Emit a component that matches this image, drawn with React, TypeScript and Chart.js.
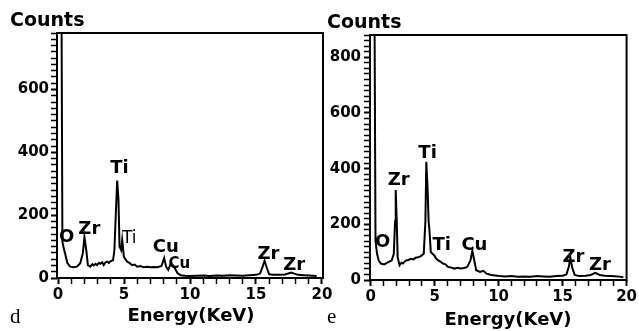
import { useEffect, useRef } from 'react';
import { Chart, registerables } from 'chart.js';

Chart.register(...registerables);

// ---------- data: panel d ----------
const energyD = [0.25, 0.33, 0.4, 0.53, 0.71, 0.92, 1.17, 1.43, 1.68, 1.88, 2.0, 2.14, 2.26, 2.44, 2.6, 2.7, 2.85, 2.95, 3.1, 3.2, 3.35, 3.46, 3.6, 3.72, 3.85, 3.97, 4.17, 4.27, 4.37, 4.48, 4.58, 4.66, 4.78, 4.86, 4.99, 5.1, 5.24, 5.4, 5.62, 5.8, 6.0, 6.25, 6.5, 6.75, 7.0, 7.25, 7.53, 7.84, 8.04, 8.19, 8.35, 8.55, 8.7, 8.85, 9.06, 9.3, 9.6, 10.0, 10.5, 11.0, 11.5, 12.0, 12.5, 13.0, 13.5, 14.0, 14.5, 15.0, 15.3, 15.5, 15.65, 15.8, 16.0, 16.3, 16.8, 17.2, 17.5, 17.7, 17.9, 18.2, 18.6, 19.0, 19.3, 19.6];
const countsD = [1000, 116, 100, 79, 47, 36, 34, 36, 47, 79, 130, 89, 41, 36, 44, 40, 45, 41, 48, 45, 50, 41, 50, 52, 48, 53, 57, 89, 196, 310, 249, 100, 89, 121, 68, 60, 52, 48, 41, 43, 36, 38, 34, 36, 34, 35, 34, 38, 63, 36, 26, 47, 41, 31, 15, 9, 7, 6, 7, 8, 6, 8, 7, 9, 8, 7, 9, 10, 14, 35, 55, 35, 12, 10, 10, 11, 15, 17, 14, 10, 9, 8, 7, 6];

// ---------- data: panel e ----------
const energyE = [0.3, 0.38, 0.5, 0.63, 0.8, 1.06, 1.38, 1.64, 1.81, 1.91, 1.96, 2.04, 2.11, 2.26, 2.4, 2.52, 2.65, 2.77, 2.95, 3.15, 3.35, 3.52, 3.7, 3.9, 4.15, 4.28, 4.35, 4.45, 4.53, 4.6, 4.7, 4.83, 4.98, 5.1, 5.28, 5.45, 5.66, 5.85, 6.04, 6.3, 6.54, 6.8, 7.04, 7.3, 7.55, 7.8, 7.95, 8.1, 8.25, 8.55, 8.8, 9.06, 9.43, 10.06, 10.5, 11.0, 11.5, 12.0, 12.5, 13.0, 13.5, 14.0, 14.5, 15.0, 15.3, 15.5, 15.6, 15.75, 15.95, 16.3, 16.8, 17.2, 17.56, 17.9, 18.3, 18.8, 19.3, 19.75];
const countsE = [1000, 140, 94, 70, 59, 56, 64, 70, 94, 211, 323, 211, 82, 53, 62, 59, 66, 70, 72, 76, 74, 80, 82, 85, 94, 211, 425, 329, 211, 176, 100, 94, 88, 78, 70, 66, 59, 56, 47, 45, 41, 44, 41, 43, 47, 70, 105, 70, 35, 29, 33, 23, 18, 14, 13, 14, 12, 13, 12, 14, 13, 12, 14, 15, 20, 50, 82, 45, 18, 14, 15, 18, 26, 18, 15, 14, 13, 10];

// ---------- axis ticks ----------
const xTickLabels = [0, 5, 10, 15, 20];
const yTickLabelsD = [0, 200, 400, 600];
const yTickLabelsE = [0, 200, 400, 600, 800];

// ---------- peak annotations ----------
const peakTextD = ['O', 'Zr', 'Ti', 'Ti', 'Cu', 'Cu', 'Zr', 'Zr'];
const peakEnergyD = [0.65, 2.37, 4.66, 5.4, 8.17, 9.2, 15.95, 17.9];
const peakCountD = [115, 140, 335, 110, 82, 32, 60, 26];

const peakTextE = ['O', 'Zr', 'Ti', 'Ti', 'Cu', 'Zr', 'Zr'];
const peakEnergyE = [0.94, 2.19, 4.45, 5.55, 8.11, 15.85, 17.92];
const peakCountE = [118, 340, 440, 108, 108, 66, 36];

// styles for annotation text (not data)
const B18 = 'bold 18px "DejaVu Sans"';
const peakFontD = [B18, B18, B18, '17px "DejaVu Sans"', B18, 'bold 15px "DejaVu Sans"', B18, B18];
const peakFontE = [B18, B18, B18, B18, B18, B18, B18];

type PanelSpec = {
  energy: number[];
  counts: number[];
  yMax: number;
  xMin: number;
  xMax: number;
  yLabels: number[];
  axisW: number;
  axisH: number;
  padTop: number;
  padRight: number;
  yLabelPad: number;
  peakText: string[];
  peakEnergy: number[];
  peakCount: number[];
  peakFont: string[];
  countsX: number;
  countsY: number;
  energyX: number;
  energyY: number;
  letter: string;
  letterX: number;
  letterY: number;
};

function makeChart(canvas: HTMLCanvasElement, p: PanelSpec) {
  const tickFont = { family: 'DejaVu Sans', weight: 'bold' as const, size: 15 };
  const textPlugin = {
    id: 'panelText',
    afterDatasetsDraw(chart: any) {
      const { ctx, chartArea: a, scales } = chart;
      ctx.save();
      ctx.strokeStyle = '#000';
      ctx.lineWidth = 2;
      ctx.strokeRect(a.left, a.top, a.right - a.left, a.bottom - a.top);
      ctx.fillStyle = '#000';
      ctx.textBaseline = 'alphabetic';
      ctx.textAlign = 'center';
      p.peakText.forEach((t, i) => {
        ctx.font = p.peakFont[i];
        ctx.fillText(t, scales.x.getPixelForValue(p.peakEnergy[i]), scales.y.getPixelForValue(p.peakCount[i]));
      });
      ctx.font = 'bold 19px "DejaVu Sans"';
      ctx.textAlign = 'left';
      ctx.fillText('Counts', p.countsX, p.countsY);
      ctx.font = 'bold 18px "DejaVu Sans"';
      ctx.textAlign = 'center';
      ctx.fillText('Energy(KeV)', p.energyX, p.energyY);
      ctx.font = '21px "Liberation Serif"';
      ctx.textAlign = 'left';
      ctx.fillText(p.letter, p.letterX, p.letterY);
      ctx.restore();
    },
  };
  return new Chart(canvas, {
    type: 'line',
    data: {
      datasets: [
        {
          data: p.energy.map((e, i) => ({ x: e, y: p.counts[i] })),
          borderColor: '#000',
          borderWidth: 2,
          pointRadius: 0,
          tension: 0,
          fill: false,
        },
      ],
    },
    options: {
      animation: false,
      responsive: false,
      maintainAspectRatio: false,
      events: [],
      layout: { padding: { top: p.padTop, right: p.padRight, left: 0, bottom: 0 } },
      plugins: { legend: { display: false }, tooltip: { enabled: false }, title: { display: false } },
      scales: {
        x: {
          type: 'linear',
          min: p.xMin,
          max: p.xMax,
          afterFit: (s: any) => { s.height = p.axisH; },
          border: { display: false },
          grid: {
            display: true,
            drawOnChartArea: false,
            drawTicks: true,
            tickLength: 6,
            tickColor: '#000',
            tickWidth: (c: any) => (xTickLabels.includes(c.tick?.value) ? 2 : 1.5),
          },
          ticks: {
            stepSize: 1,
            includeBounds: false,
            autoSkip: false,
            maxRotation: 0,
            padding: 2,
            color: '#000',
            font: tickFont,
            callback: (v: any) => (xTickLabels.includes(Number(v)) ? String(v) : ''),
          },
        },
        y: {
          type: 'linear',
          min: 0,
          max: p.yMax,
          afterFit: (s: any) => { s.width = p.axisW; },
          border: { display: false },
          grid: {
            display: true,
            drawOnChartArea: false,
            drawTicks: true,
            tickLength: 6,
            tickColor: '#000',
            tickWidth: (c: any) => (p.yLabels.includes(c.tick?.value) ? 2 : 1.5),
          },
          ticks: {
            stepSize: 20,
            includeBounds: false,
            autoSkip: false,
            padding: p.yLabelPad,
            color: '#000',
            font: tickFont,
            callback: (v: any) => (p.yLabels.includes(Number(v)) ? String(v) : ''),
          },
        },
      },
    },
    plugins: [textPlugin],
  });
}

export default function App() {
  const refD = useRef<HTMLCanvasElement>(null);
  const refE = useRef<HTMLCanvasElement>(null);

  useEffect(() => {
    const cd = makeChart(refD.current!, {
      energy: energyD,
      counts: countsD,
      yMax: 780,
      xMin: -0.08,
      xMax: 20.08,
      yLabels: yTickLabelsD,
      axisW: 57,
      axisH: 53,
      padTop: 33,
      padRight: 12,
      yLabelPad: 2,
      peakText: peakTextD,
      peakEnergy: peakEnergyD,
      peakCount: peakCountD,
      peakFont: peakFontD,
      countsX: 10,
      countsY: 26,
      energyX: 191,
      energyY: 321,
      letter: 'd',
      letterX: 10,
      letterY: 323,
    });
    const ce = makeChart(refE.current!, {
      energy: energyE,
      counts: countsE,
      yMax: 880,
      xMin: -0.05,
      xMax: 20,
      yLabels: yTickLabelsE,
      axisW: 45,
      axisH: 51,
      padTop: 35,
      padRight: 4,
      yLabelPad: 3,
      peakText: peakTextE,
      peakEnergy: peakEnergyE,
      peakCount: peakCountE,
      peakFont: peakFontE,
      countsX: 2,
      countsY: 28,
      energyX: 183,
      energyY: 325,
      letter: 'e',
      letterX: 2,
      letterY: 323,
    });
    return () => {
      cd.destroy();
      ce.destroy();
    };
  }, []);

  return (
    <div style={{ position: 'absolute', left: 0, top: 0, width: 639, height: 331, background: '#fff', overflow: 'hidden' }}>
      <canvas ref={refD} width={335} height={331} style={{ position: 'absolute', left: 0, top: 0, width: 335, height: 331 }} />
      <canvas ref={refE} width={314} height={331} style={{ position: 'absolute', left: 325, top: 0, width: 314, height: 331 }} />
    </div>
  );
}
